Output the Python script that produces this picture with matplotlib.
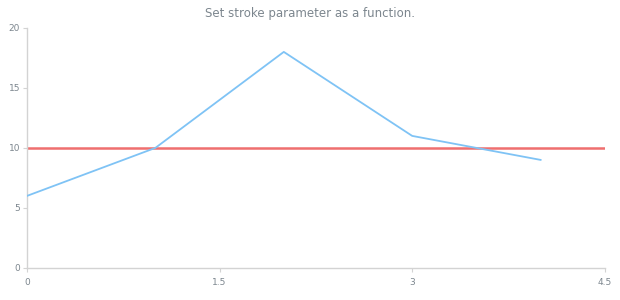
import matplotlib.pyplot as plt

# Data
x_values = [0, 1, 2, 3, 4]
y_values = [6, 10, 18, 11, 9]
marker_value = 10
x_ticks = [0, 1.5, 3, 4.5]
y_ticks = [0, 5, 10, 15, 20]

text_color = "#7c868e"
axis_color = "#d3d3d3"

fig = plt.figure(figsize=(6.2, 3.0), dpi=100)
ax = fig.add_axes([0.0435, 0.107, 0.932, 0.8])

ax.plot(x_values, y_values, color="#7fc3f5", linewidth=1.3, zorder=3)
ax.axhline(marker_value, color="#ef6f6f", linewidth=1.8, zorder=2)

ax.set_xlim(0, 4.5)
ax.set_ylim(0, 20)
ax.set_xticks(x_ticks)
ax.set_xticklabels(["0", "1.5", "3", "4.5"])
ax.set_yticks(y_ticks)

for side in ["top", "right"]:
    ax.spines[side].set_visible(False)
for side in ["left", "bottom"]:
    ax.spines[side].set_color(axis_color)
    ax.spines[side].set_linewidth(1)

ax.tick_params(colors=axis_color, labelcolor=text_color, labelsize=6.5, length=3, width=0.8)
ax.tick_params(axis="y", pad=2)
ax.tick_params(axis="x", pad=4)

fig.text(0.5, 0.955, "Set stroke parameter as a function.", ha="center", va="center",
         color=text_color, fontsize=8.5)

fig.savefig("out.png", dpi=100)
